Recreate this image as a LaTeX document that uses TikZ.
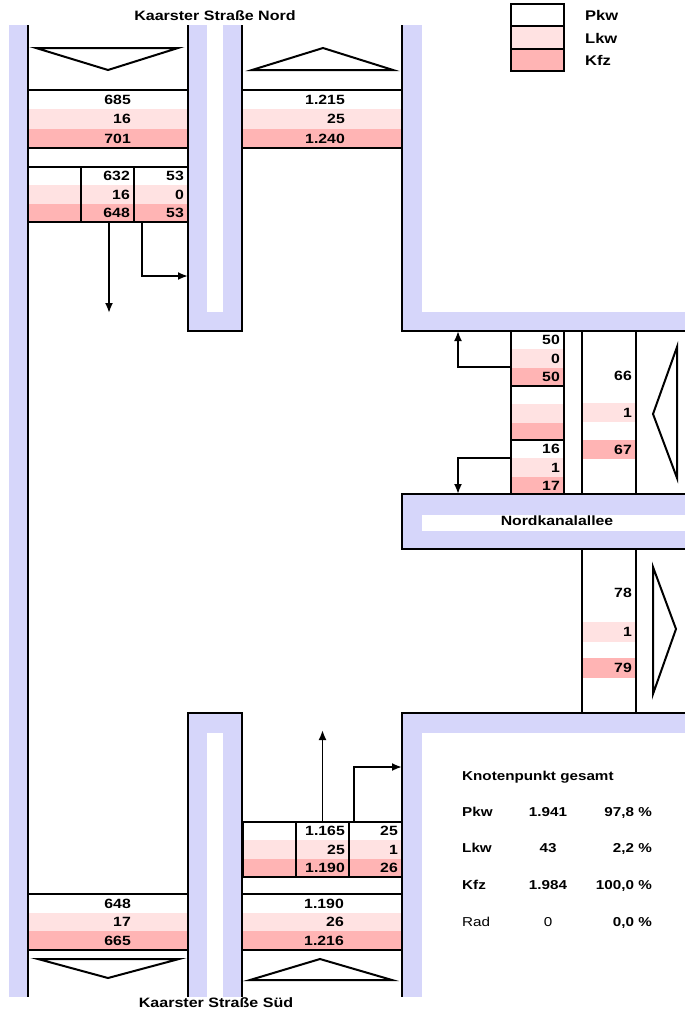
\documentclass[tikz,border=0pt]{standalone}
\usepackage{fontspec}
\setmainfont{Liberation Sans}[FakeStretch=1.18]
\usetikzlibrary{arrows.meta, positioning}
\definecolor{kplav}{RGB}{214, 214, 250}
\definecolor{kplkw}{RGB}{255, 226, 226}
\definecolor{kpkfz}{RGB}{255, 180, 180}

\begin{document}
\begin{tikzpicture}[x=1pt, y=-1pt,
        road/.style={fill=kplav},
        curb/.style={draw=black, line width=2.3pt},
        tbox/.style={rectangle, draw=black, line width=2pt, inner sep=0pt, outer sep=0pt},
        lkwrow/.style={fill=kplkw},
        kfzrow/.style={fill=kpkfz},
        num/.style={anchor=east, inner sep=0pt, text height=9.5pt, text depth=0pt, font=\bfseries\fontsize{13.4}{15}\selectfont},
        title/.style={inner sep=0pt, text height=9.8pt, text depth=0pt, font=\bfseries\fontsize{13.6}{16}\selectfont},
        legtext/.style={anchor=west, inner sep=0pt, text height=10pt, text depth=0pt, font=\bfseries\fontsize{14}{16}\selectfont},
        stat/.style={inner sep=0pt, text height=9.2pt, text depth=0pt, font=\bfseries\fontsize{12.9}{15}\selectfont},
        statplain/.style={stat, font=\fontsize{12.9}{15}\selectfont},
        wedge/.style={draw=black, line width=2pt, line join=miter},
        flow/.style={-{Latex[length=10pt, width=8pt]}, line width=1.9pt}
    ]
    \useasboundingbox (0,0) rectangle (685,1012);

    % roads
    \fill[road] (9,25) rectangle (28,997);
    \fill[road] (188,25) rectangle (242,331);
    \fill[white] (207,25) rectangle (223,312);
    \fill[road] (402,25) rectangle (422,331);
    \fill[road] (402,312) rectangle (685,331);
    \fill[road] (402,494) rectangle (685,549);
    \fill[white] (422,515) rectangle (685,531);
    \fill[road] (402,713) rectangle (422,997);
    \fill[road] (402,713) rectangle (685,733);
    \fill[road] (188,713) rectangle (242,997);
    \fill[white] (207,733) rectangle (223,997);

    % rows
    \fill[lkwrow] (28,109.3) rectangle (188,128.7);
    \fill[kfzrow] (28,128.7) rectangle (188,148);
    \fill[lkwrow] (28,185.3) rectangle (188,203.7);
    \fill[kfzrow] (28,203.7) rectangle (188,222);
    \fill[lkwrow] (242,109.3) rectangle (402,128.7);
    \fill[kfzrow] (242,128.7) rectangle (402,148);
    \fill[lkwrow] (511,349.3) rectangle (564,367.7);
    \fill[kfzrow] (511,367.7) rectangle (564,386);
    \fill[lkwrow] (511,404.3) rectangle (564,422.7);
    \fill[kfzrow] (511,422.7) rectangle (564,440);
    \fill[lkwrow] (511,458.3) rectangle (564,476.7);
    \fill[kfzrow] (511,476.7) rectangle (564,494);
    \fill[lkwrow] (582,403) rectangle (636,422);
    \fill[kfzrow] (582,440) rectangle (636,459);
    \fill[lkwrow] (582,622) rectangle (636,642);
    \fill[kfzrow] (582,658) rectangle (636,678);
    \fill[lkwrow] (242,840.3) rectangle (402,858.7);
    \fill[kfzrow] (242,858.7) rectangle (402,877);
    \fill[lkwrow] (28,912.7) rectangle (188,931.3);
    \fill[kfzrow] (28,931.3) rectangle (188,950);
    \fill[lkwrow] (242,912.7) rectangle (402,931.3);
    \fill[kfzrow] (242,931.3) rectangle (402,950);

    % curbs
    \draw[curb] (28,25) -- (28,997);
    \draw[curb] (188,25) |- (242,331) -- (242,25);
    \draw[curb] (402,25) |- (685,331);
    \draw[curb] (685,494) -| (402,549) -- (685,549);
    \draw[curb] (685,713) -| (402,997);
    \draw[curb] (188,997) |- (242,713) -- (242,997);
    \draw[curb] (582,331) -- (582,494);
    \draw[curb] (636,331) -- (636,494);
    \draw[curb] (582,549) -- (582,713);
    \draw[curb] (636,549) -- (636,713);

    % legend
    \node[tbox, fill=white, minimum width=53pt, minimum height=22pt] (legPkw) at (537.5,15) {};
    \node[tbox, lkwrow, minimum width=53pt, minimum height=22.5pt, below=0pt of legPkw] (legLkw) {};
    \node[tbox, kfzrow, minimum width=53pt, minimum height=22.5pt, below=0pt of legLkw] (legKfz) {};
    \node[legtext] (txPkw) at (585,15) {Pkw};
    \node[legtext] (txLkw) at (585,38) {Lkw};
    \node[legtext] (txKfz) at (585,60) {Kfz};

    % Kaarster Strasse Nord
    \node[title] (nord) at (215,15.5) {Kaarster Straße Nord};
    \draw[wedge] (36,48) -- (178,48) -- (108,70) -- cycle;
    \draw[wedge] (252,70) -- (393,70) -- (323,48) -- cycle;
    \node[tbox, minimum width=160pt, minimum height=58pt] (knAb) at (108,119) {};
    \node[tbox, minimum width=160pt, minimum height=58pt] (knZu) at (322,119) {};
    \node[num] (knAb1) at (131,99.7) {685};
    \node[num] (knAb2) at (131,119) {16};
    \node[num] (knAb3) at (131,138.3) {701};
    \node[num] (knZu1) at (345,99.7) {1.215};
    \node[num] (knZu2) at (345,119) {25};
    \node[num] (knZu3) at (345,138.3) {1.240};
    \node[tbox, minimum width=53pt, minimum height=55pt] (knL) at (54.5,194.5) {};
    \node[tbox, minimum width=53pt, minimum height=55pt] (knG) at (107.5,194.5) {};
    \node[tbox, minimum width=54pt, minimum height=55pt] (knR) at (161,194.5) {};
    \node[num] (knG1) at (130,176.2) {632};
    \node[num] (knG2) at (130,194.5) {16};
    \node[num] (knG3) at (130,212.8) {648};
    \node[num] (knR1) at (184,176.2) {53};
    \node[num] (knR2) at (184,194.5) {0};
    \node[num] (knR3) at (184,212.8) {53};
    \coordinate (nordGerade) at (109,313);
    \coordinate (nordRechts) at (188,276);
    \draw[flow] ([xshift=1.5pt]knG.south) -- (nordGerade);
    \draw[flow] ([xshift=8pt]knR.south west) |- (nordRechts);

    % Nordkanalallee
    \node[title, font=\bfseries\fontsize{13.4}{15}\selectfont, text height=9.5pt] (nka) at (557,521) {Nordkanalallee};
    \node[tbox, minimum width=53pt, minimum height=55pt] (nk1) at (537.5,358.5) {};
    \node[tbox, minimum width=53pt, minimum height=54pt] (nk2) at (537.5,413) {};
    \node[tbox, minimum width=53pt, minimum height=54pt] (nk3) at (537.5,467) {};
    \node[num] (nk11) at (560,340.2) {50};
    \node[num] (nk12) at (560,358.5) {0};
    \node[num] (nk13) at (560,376.8) {50};
    \node[num] (nk31) at (560,449.2) {16};
    \node[num] (nk32) at (560,467.5) {1};
    \node[num] (nk33) at (560,485.8) {17};
    \node[num] (nkZu1) at (632,376) {66};
    \node[num] (nkZu2) at (632,412.5) {1};
    \node[num] (nkZu3) at (632,449.5) {67};
    \node[num] (nkAb1) at (632,593) {78};
    \node[num] (nkAb2) at (632,632) {1};
    \node[num] (nkAb3) at (632,668) {79};
    \draw[wedge] (677,347) -- (653,414) -- (677,478) -- cycle;
    \draw[wedge] (653,567) -- (676,629) -- (653,694) -- cycle;
    \coordinate (nkLinks) at (458,331);
    \coordinate (nkRechts) at (458,494);
    \draw[flow] ([yshift=-8.5pt]nk1.west) -| (nkLinks);
    \draw[flow] ([yshift=9pt]nk3.west) -| (nkRechts);

    % Kaarster Strasse Sued
    \node[tbox, minimum width=53pt, minimum height=55pt] (ksL) at (269.5,849.5) {};
    \node[tbox, minimum width=53pt, minimum height=55pt] (ksG) at (322.5,849.5) {};
    \node[tbox, minimum width=53pt, minimum height=55pt] (ksR) at (375.5,849.5) {};
    \node[num] (ksG1) at (345,831.2) {1.165};
    \node[num] (ksG2) at (345,849.5) {25};
    \node[num] (ksG3) at (345,867.8) {1.190};
    \node[num] (ksR1) at (398,831.2) {25};
    \node[num] (ksR2) at (398,849.5) {1};
    \node[num] (ksR3) at (398,867.8) {26};
    \coordinate (suedGerade) at (322.5,730);
    \coordinate (suedRechts) at (402,767);
    \draw[flow] (ksG.north) -- (suedGerade);
    \draw[flow] ([xshift=5pt]ksR.north west) |- (suedRechts);
    \node[tbox, minimum width=160pt, minimum height=56pt] (ksAb) at (108,922) {};
    \node[tbox, minimum width=160pt, minimum height=56pt] (ksZu) at (322,922) {};
    \node[num] (ksAb1) at (131,903.3) {648};
    \node[num] (ksAb2) at (131,922) {17};
    \node[num] (ksAb3) at (131,940.7) {665};
    \node[num] (ksZu1) at (344,903.3) {1.190};
    \node[num] (ksZu2) at (344,922) {26};
    \node[num] (ksZu3) at (344,940.7) {1.216};
    \draw[wedge] (38,959) -- (179,959) -- (108,978) -- cycle;
    \draw[wedge] (250,980) -- (392,980) -- (320,959) -- cycle;
    \node[title] (sued) at (216,1003) {Kaarster Straße Süd};

    % Knotenpunkt gesamt
    \node[stat, anchor=west] (kpTitel) at (462,776) {Knotenpunkt gesamt};
    \node[stat, anchor=west] (kpPkw) at (462,812) {Pkw};
    \node[stat] (kpPkwN) at (548,812) {1.941};
    \node[stat, anchor=east] (kpPkwP) at (652,812) {97,8 \%};
    \node[stat, anchor=west] (kpLkw) at (462,848) {Lkw};
    \node[stat] (kpLkwN) at (548,848) {43};
    \node[stat, anchor=east] (kpLkwP) at (652,848) {2,2 \%};
    \node[stat, anchor=west] (kpKfz) at (462,885) {Kfz};
    \node[stat] (kpKfzN) at (548,885) {1.984};
    \node[stat, anchor=east] (kpKfzP) at (652,885) {100,0 \%};
    \node[statplain, anchor=west] (kpRad) at (462,922) {Rad};
    \node[statplain] (kpRadN) at (548,922) {0};
    \node[stat, anchor=east] (kpRadP) at (652,922) {0,0 \%};
\end{tikzpicture}
\end{document}
